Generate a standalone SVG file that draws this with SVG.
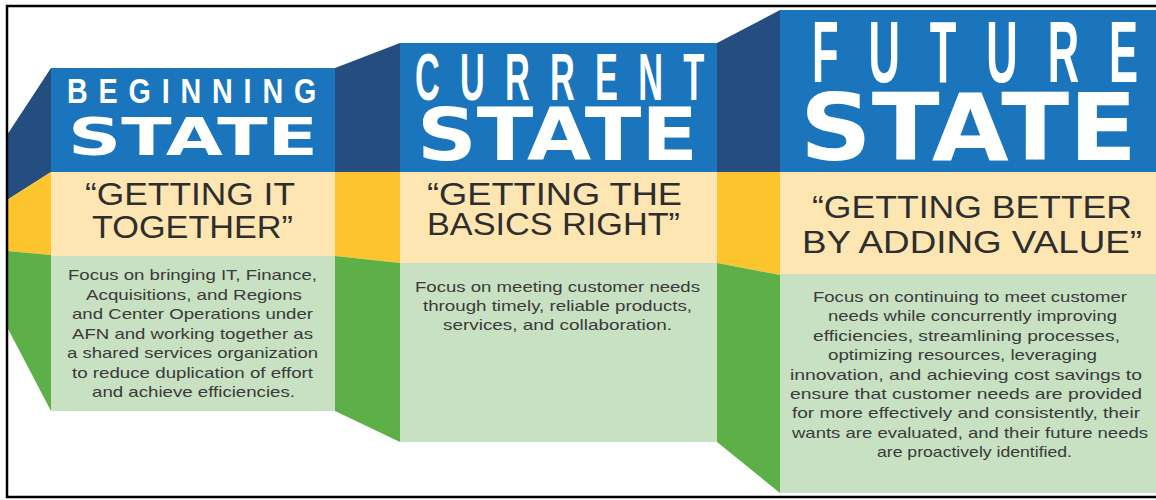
<svg xmlns="http://www.w3.org/2000/svg" width="1156" height="500" viewBox="0 0 1156 500">
<style>
.hdr{fill:#1b75bc}
.navy{fill:#244e7f}
.cream{fill:#fde6b1}
.yel{fill:#fcc42d}
.lg{fill:#c7e1c2}
.grn{fill:#5cb047}
.t1{font-family:"Liberation Sans",Arial,sans-serif;font-weight:bold;fill:#ffffff}
.t2{font-family:"DejaVu Sans","Liberation Sans",sans-serif;font-weight:bold;fill:#ffffff}
.q{font-family:"Liberation Sans",Arial,sans-serif;font-size:31px;fill:#2e2e2e}
.b{font-family:"Liberation Sans",Arial,sans-serif;font-size:15px;fill:#3a3a3a}
</style>
<rect x="0" y="0" width="1156" height="500" fill="#ffffff"/>

<g id="connectors">
  <polygon class="navy" points="51,68 7,135 7,200 51,172"/>
  <polygon class="yel" points="7,200 51,172 51,255 7,251"/>
  <polygon class="grn" points="7,251 51,255 51,411 7,327"/>
  <polygon class="navy" points="335,68 400,43 400,172 335,172"/>
  <polygon class="yel" points="335,172 400,172 400,263 335,256"/>
  <polygon class="grn" points="335,256 400,263 400,442 335,411"/>
  <polygon class="navy" points="717,43 780,10 780,172 717,172"/>
  <polygon class="yel" points="717,172 780,172 780,275 717,263"/>
  <polygon class="grn" points="717,263 780,275 780,493 717,442"/>
</g>

<g id="beginning">
  <rect class="hdr" x="51" y="68" width="284" height="104"/>
  <rect class="cream" x="51" y="172" width="284" height="84"/>
  <rect class="lg" x="51" y="256" width="284" height="155"/>
  <text class="t1" transform="translate(67,103) scale(0.82,1)" x="0" y="0" font-size="35" textLength="304" lengthAdjust="spacing">BEGINNING</text>
  <text class="t2" x="68" y="155" font-size="51" textLength="250" lengthAdjust="spacingAndGlyphs">STATE</text>
  <text class="q" x="85" y="205" textLength="210" lengthAdjust="spacingAndGlyphs">“GETTING IT</text>
  <text class="q" x="92" y="238" textLength="201" lengthAdjust="spacingAndGlyphs">TOGETHER”</text>
  <text class="b" x="68" y="280" textLength="249" lengthAdjust="spacingAndGlyphs">Focus on bringing IT, Finance,</text>
  <text class="b" x="86" y="299.5" textLength="216" lengthAdjust="spacingAndGlyphs">Acquisitions, and Regions</text>
  <text class="b" x="72" y="319" textLength="241" lengthAdjust="spacingAndGlyphs">and Center Operations under</text>
  <text class="b" x="72" y="338.5" textLength="241" lengthAdjust="spacingAndGlyphs">AFN and working together as</text>
  <text class="b" x="67" y="358" textLength="251" lengthAdjust="spacingAndGlyphs">a shared services organization</text>
  <text class="b" x="72" y="377.5" textLength="241" lengthAdjust="spacingAndGlyphs">to reduce duplication of effort</text>
  <text class="b" x="92" y="397" textLength="203" lengthAdjust="spacingAndGlyphs">and achieve efficiencies.</text>
</g>

<g id="current">
  <rect class="hdr" x="400" y="43" width="317" height="129"/>
  <rect class="cream" x="400" y="172" width="317" height="91"/>
  <rect class="lg" x="400" y="263" width="317" height="179"/>
  <text class="t1" transform="translate(415,100) scale(0.52,1)" x="0" y="0" font-size="66" textLength="556" lengthAdjust="spacing">CURRENT</text>
  <text class="t2" x="417" y="160" font-size="73" textLength="281" lengthAdjust="spacingAndGlyphs">STATE</text>
  <text class="q" x="427" y="205" textLength="255" lengthAdjust="spacingAndGlyphs">“GETTING THE</text>
  <text class="q" x="427" y="235" textLength="253" lengthAdjust="spacingAndGlyphs">BASICS RIGHT”</text>
  <text class="b" x="415" y="292" textLength="285" lengthAdjust="spacingAndGlyphs">Focus on meeting customer needs</text>
  <text class="b" x="423" y="311" textLength="269" lengthAdjust="spacingAndGlyphs">through timely, reliable products,</text>
  <text class="b" x="443" y="330" textLength="229" lengthAdjust="spacingAndGlyphs">services, and collaboration.</text>
</g>

<g id="future">
  <rect class="hdr" x="780" y="10" width="376" height="162"/>
  <rect class="cream" x="780" y="172" width="376" height="102"/>
  <rect class="lg" x="780" y="274" width="376" height="219"/>
  <text class="t1" transform="translate(812,82) scale(0.5,1)" x="0" y="0" font-size="87" textLength="652" lengthAdjust="spacing">FUTURE</text>
  <text class="t2" x="800" y="160" font-size="93" textLength="337" lengthAdjust="spacingAndGlyphs">STATE</text>
  <text class="q" x="812" y="218" textLength="320" lengthAdjust="spacingAndGlyphs">“GETTING BETTER</text>
  <text class="q" x="802" y="253" textLength="340" lengthAdjust="spacingAndGlyphs">BY ADDING VALUE”</text>
  <text class="b" x="813" y="302" textLength="314" lengthAdjust="spacingAndGlyphs">Focus on continuing to meet customer</text>
  <text class="b" x="828" y="321.4" textLength="289" lengthAdjust="spacingAndGlyphs">needs while concurrently improving</text>
  <text class="b" x="813" y="340.8" textLength="307" lengthAdjust="spacingAndGlyphs">efficiencies, streamlining processes,</text>
  <text class="b" x="828" y="360.2" textLength="269" lengthAdjust="spacingAndGlyphs">optimizing resources, leveraging</text>
  <text class="b" x="790" y="379.6" textLength="352" lengthAdjust="spacingAndGlyphs">innovation, and achieving cost savings to</text>
  <text class="b" x="790" y="399" textLength="352" lengthAdjust="spacingAndGlyphs">ensure that customer needs are provided</text>
  <text class="b" x="792" y="418.4" textLength="348" lengthAdjust="spacingAndGlyphs">for more effectively and consistently, their</text>
  <text class="b" x="792" y="437.8" textLength="356" lengthAdjust="spacingAndGlyphs">wants are evaluated, and their future needs</text>
  <text class="b" x="877" y="457.2" textLength="195" lengthAdjust="spacingAndGlyphs">are proactively identified.</text>
</g>

<rect x="7" y="6" width="1160" height="491" fill="none" stroke="#000000" stroke-width="2.5"/>
</svg>
